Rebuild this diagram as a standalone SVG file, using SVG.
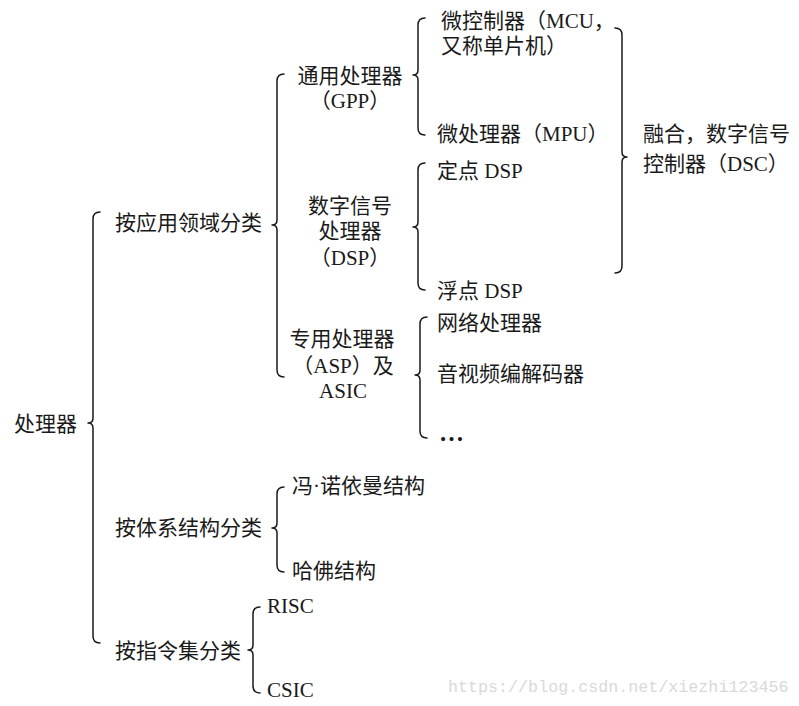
<svg xmlns="http://www.w3.org/2000/svg" width="799" height="706" viewBox="0 0 799 706">
<style>
.t{font-family:"Liberation Serif","Noto Sans CJK SC",serif;font-size:21px;fill:#1a1a1a}
.m{text-anchor:middle}
.b{fill:none;stroke:#1a1a1a;stroke-width:1.5;stroke-linecap:round;stroke-linejoin:round}
.w{font-family:"Liberation Mono","DejaVu Sans Mono",monospace;font-size:16.7px;fill:#d9d9d9}
</style>
<rect width="799" height="706" fill="#ffffff"/>
<g id="connectors">
<path class="b" d="M100,212 Q93,212 93,219 L93,418 Q93,423 88,423 Q93,423 93,428 L93,636 Q93,643 100,643"/>
<path class="b" d="M284,74 Q277,74 277,81 L277,220 Q277,225 272,225 Q277,225 277,230 L277,370 Q277,377 284,377"/>
<path class="b" d="M425,18 Q418,18 418,25 L418,70 Q418,75 413,75 Q418,75 418,80 L418,128 Q418,135 425,135"/>
<path class="b" d="M425,163 Q418,163 418,170 L418,222 Q418,227 413,227 Q418,227 418,232 L418,283 Q418,290 425,290"/>
<path class="b" d="M427,317 Q420,317 420,324 L420,370 Q420,375 415,375 Q420,375 420,380 L420,431 Q420,438 427,438"/>
<path class="b" d="M284,487 Q277,487 277,494 L277,523 Q277,528 272,528 Q277,528 277,533 L277,565 Q277,572 284,572"/>
<path class="b" d="M260,607 Q253,607 253,614 L253,645 Q253,650 248,650 Q253,650 253,655 L253,686 Q253,693 260,693"/>
<path class="b" d="M615,28 Q622,28 622,35 L622,152 Q622,157 627,157 Q622,157 622,162 L622,266 Q622,273 615,273"/>
</g>
<g id="root"><text class="t" x="14" y="431">处理器</text></g>
<g id="by-app"><text class="t" x="115" y="230">按应用领域分类</text></g>
<g id="by-arch"><text class="t" x="115" y="535">按体系结构分类</text></g>
<g id="by-isa"><text class="t" x="115" y="658">按指令集分类</text></g>
<g id="gpp"><text class="t m" x="350" y="83">通用处理器</text><text class="t m" x="350" y="108">（GPP）</text></g>
<g id="dsp"><text class="t m" x="350" y="213">数字信号</text><text class="t m" x="350" y="238">处理器</text><text class="t m" x="350" y="265">（DSP）</text></g>
<g id="asp"><text class="t m" x="342" y="346">专用处理器</text><text class="t m" x="343" y="373">（ASP）及</text><text class="t m" x="343" y="398">ASIC</text></g>
<g id="mcu"><text class="t" x="441" y="28">微控制器（MCU，</text><text class="t" x="441" y="53">又称单片机）</text></g>
<g id="mpu"><text class="t" x="437" y="141">微处理器（MPU）</text></g>
<g id="fixed"><text class="t" x="437" y="178">定点 DSP</text></g>
<g id="float"><text class="t" x="437" y="298">浮点 DSP</text></g>
<g id="np"><text class="t" x="437" y="330">网络处理器</text></g>
<g id="codec"><text class="t" x="437" y="381">音视频编解码器</text></g>
<g id="etc"><text class="t" x="439" y="441" font-weight="bold" style="font-size:25px">…</text></g>
<g id="dsc"><text class="t" x="643" y="141">融合，数字信号</text><text class="t" x="643" y="171">控制器（DSC）</text></g>
<g id="von"><text class="t" x="292" y="493">冯·诺依曼结构</text></g>
<g id="harvard"><text class="t" x="292" y="578">哈佛结构</text></g>
<g id="risc"><text class="t" x="267" y="613">RISC</text></g>
<g id="csic"><text class="t" x="267" y="697">CSIC</text></g>
<text class="w" x="448" y="692">https://blog.csdn.net/xiezhi123456</text>
</svg>
